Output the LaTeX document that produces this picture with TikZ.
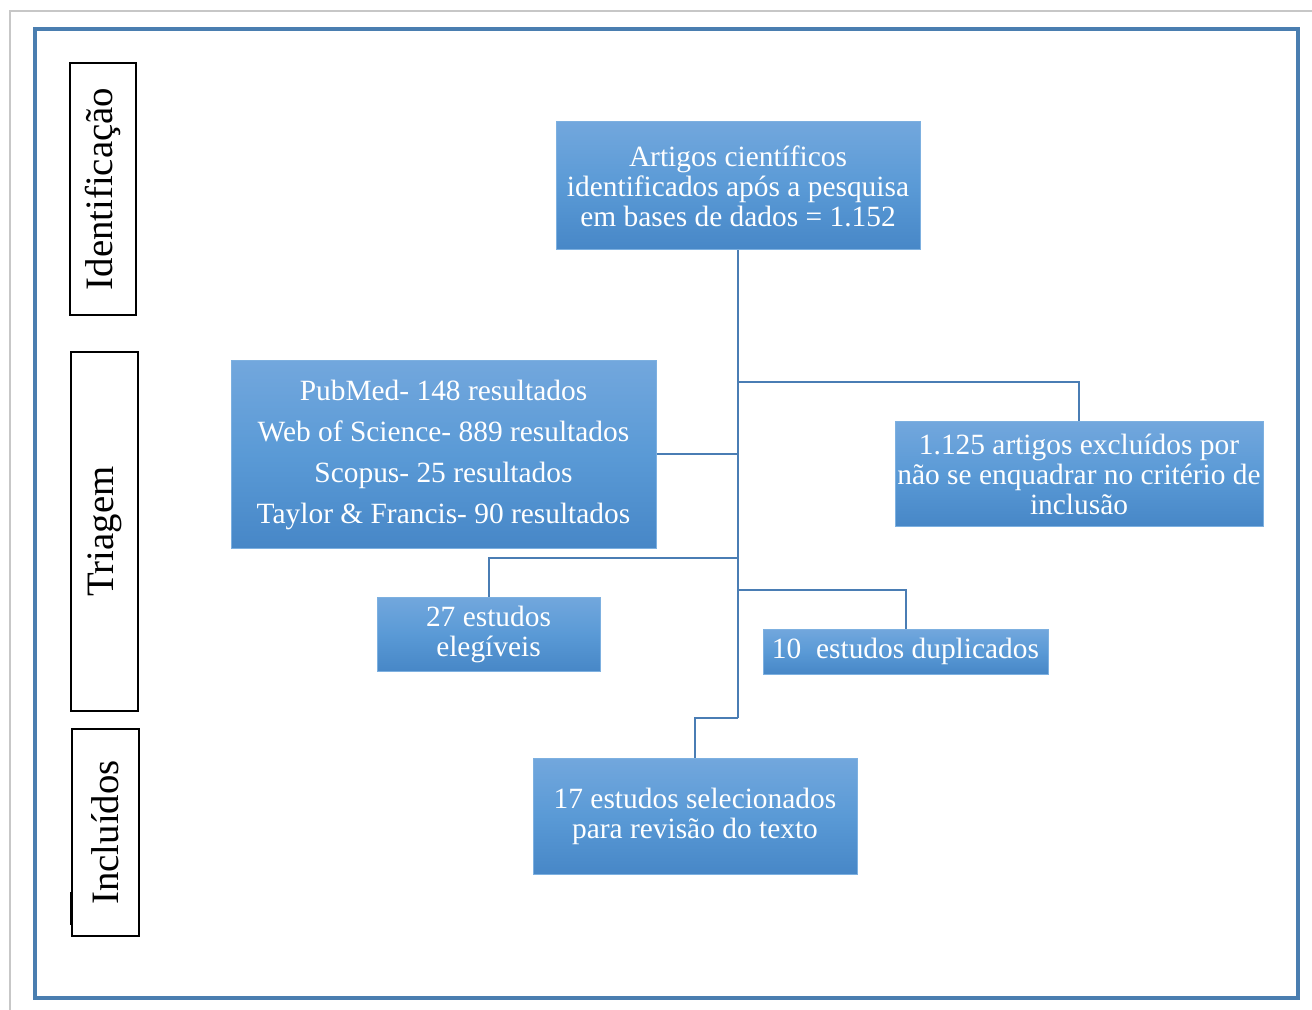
\documentclass[tikz,border=0pt]{standalone}
\usepackage{fontspec}
\setmainfont{Liberation Serif}
\definecolor{frameblue}{HTML}{4A7EB0}
\definecolor{lineblue}{HTML}{4A7DB4}
\definecolor{boxtop}{HTML}{72A7DD}
\definecolor{boxmid}{HTML}{5A9AD6}
\definecolor{boxbot}{HTML}{4787C7}
\definecolor{boxedge}{HTML}{7DB0E0}
\tikzset{
  flowbox/.style={rectangle, draw=boxedge, line width=0.5pt, top color=boxtop, bottom color=boxbot, middle color=boxmid,
    text=white, align=center, inner sep=0pt, font=\fontsize{14.7}{15}\selectfont},
  sidebox/.style={rectangle, draw=black, line width=0.8pt, fill=white, rotate=90, inner sep=0pt,
    font=\fontsize{19.4}{22}\selectfont},
  conn/.style={draw=lineblue, line width=1pt}
}
\begin{document}
\begin{tikzpicture}[x=0.5pt,y=-0.5pt]
\useasboundingbox (0,0) rectangle (1312,1010);
\fill[white] (0,0) rectangle (1312,1010);
% page edges
\draw[color=black!22, line width=0.6pt] (10,1010) -- (10,11) -- (1312,11);
% blue frame
\draw[frameblue, line width=2pt] (35,29) rectangle (1298,998);

% side labels
\node[sidebox, minimum width=126pt, minimum height=33pt] (ident) at (103,189) {Identificação};
\node[sidebox, minimum width=179.5pt, minimum height=33.5pt] (triag) at (104.5,531.5) {Triagem};
\node[sidebox, minimum width=103.5pt, minimum height=33.5pt] (incl) at (105.5,832.5) {Incluídos};
\draw[black, line width=0.8pt] (71,892) -- (71,925);

% boxes
\node[flowbox, minimum width=182pt, minimum height=64pt] (top) at (738,186)
  {Artigos científicos\\identificados após a pesquisa\\em bases de dados = 1.152};
\node[flowbox, minimum width=212.5pt, minimum height=93.5pt, font=\fontsize{14.7}{20.5}\selectfont] (db) at (443.5,454.5)
  {PubMed- 148 resultados\\Web of Science- 889 resultados\\Scopus- 25 resultados\\Taylor \& Francis- 90 resultados};
\node[flowbox, minimum width=184pt, minimum height=52pt] (excl) at (1079,474)
  {1.125 artigos excluídos por\\não se enquadrar no critério de\\inclusão};
\node[flowbox, minimum width=111.5pt, minimum height=37pt] (eleg) at (488.5,634)
  {27 estudos\\elegíveis};
\node[flowbox, minimum width=142.5pt, minimum height=22.5pt] (dup) at (905.5,651.5)
  {10\ \ estudos duplicados};
\node[flowbox, minimum width=162pt, minimum height=58pt] (sel) at (695,816)
  {17 estudos selecionados\\para revisão do texto};

% connectors
\coordinate (j1) at (738,382);
\coordinate (j3) at (738,558);
\coordinate (j4) at (738,590);
\coordinate (tend) at (738,718);
\draw[conn] (top.south) -- (tend);
\draw[conn] (j1) -| (excl.north);
\draw[conn] (db.east) -- (db.east -| top.south);
\draw[conn] (j3) -| (eleg.north);
\draw[conn] (j4) -| (dup.north);
\draw[conn] (tend) -| (sel.north);
\end{tikzpicture}
\end{document}
